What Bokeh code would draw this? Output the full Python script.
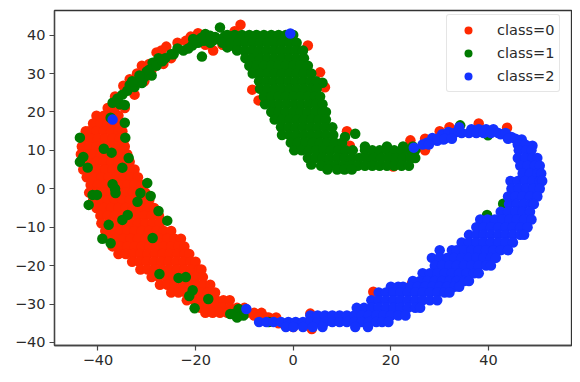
from bokeh.plotting import figure
from bokeh.models import Legend, LegendItem, FixedTicker
from bokeh.embed import file_html
from bokeh.resources import INLINE

x_ticks = [-40, -20, 0, 20, 40]
y_ticks = [-40, -30, -20, -10, 0, 10, 20, 30, 40]
class_labels = ["class=0", "class=1", "class=2"]
colors = ["#ff2800", "#007a00", "#1432ff"]

# Each row: y value, then the x values read along that height
red_rows = [
 (21, [-38, -36.5]),
 (19, [-40.3, -38.8, -37.3, -35.8]),
 (17, [-41, -39.5, -38, -36.5, -35.5]),
 (15, [-42.5, -41.8, -40.3, -38.8, -37.3, -35.8, -35]),
 (13, [-43, -41.5, -40, -38.5, -37, -35.5, -34.5]),
 (11, [-43.3, -41.8, -40.3, -38.8, -37.3, -35.8, -34.5]),
 (9, [-43.5, -42.5, -41, -39.5, -38, -36.5, -35, -34]),
 (7, [-43.3, -41.8, -40.3, -38.8, -37.3, -35.8, -34.3, -33.5]),
 (5, [-43, -41.5, -40, -38.5, -37, -35.5, -34, -32.5]),
 (3, [-42.3, -40.8, -39.3, -37.8, -36.3, -34.8, -33.3, -31.8]),
 (1, [-41.5, -40, -38.5, -37, -35.5, -34, -32.5, -31]),
 (-1, [-41.8, -40.3, -38.8, -37.3, -35.8, -34.3, -32.8, -31.3, -30.3]),
 (-3, [-41, -39.5, -38, -36.5, -35, -33.5, -32, -30.5, -29.5]),
 (-5, [-40.3, -38.8, -37.3, -35.8, -34.3, -32.8, -31.3, -29.8, -28.5]),
 (-7, [-39.5, -38, -36.5, -35, -33.5, -32, -30.5, -29, -27.5]),
 (-9, [-39.3, -37.8, -36.3, -34.8, -33.3, -31.8, -30.3, -28.8, -27.3]),
 (-11, [-38.5, -37, -35.5, -34, -32.5, -31, -29.5, -28, -26.5, -25]),
 (-13, [-37.8, -36.3, -34.8, -33.3, -31.8, -30.3, -28.8, -27.3, -25.8, -24.3, -23]),
 (-15, [-37, -35.5, -34, -32.5, -31, -29.5, -28, -26.5, -25, -23.5, -22.3]),
 (-17, [-35.8, -34.3, -32.8, -31.3, -29.8, -28.3, -26.8, -25.3, -23.8, -22.3, -21.3]),
 (-19, [-33, -31.5, -30, -28.5, -27, -25.5, -24, -22.5, -21, -20]),
 (-21, [-31.3, -29.8, -28.3, -26.8, -25.3, -23.8, -22.3, -20.8, -19.3, -18.8]),
 (-23, [-29, -27.5, -26, -24.5, -23, -21.5, -20, -18.5]),
 (-25, [-27.3, -25.8, -24.3, -22.8, -21.3, -19.8, -18.3, -17]),
 (-27, [-25, -23.5, -22, -20.5, -19, -17.5, -16]),
 (-29, [-21.8, -20.3, -18.8, -17.3, -15.8, -14.3, -13]),
 (-31, [-19, -17.5, -16, -14.5, -13, -11.5, -10]),
 (-32.3, [-18, -16.5, -15, -13.5, -11, -9.5, -8, -6.5]),
 (-33.5, [-7, -5, -3.5]),
]
red_extra_x = [-36.5, -34.8, -32.5, -34.5, -27, -26.6, -23.7, -21, -16.4, -10.8, -12, -8, -8.4, -7.1,
               3, 5.5, 6.5, 11, 11.6, -8, -5.5, -3, 0, 3.5, 3.8, 16.4, 24.3, 43.8, 38, 32, 30,
               27, 24, 27, 20.5, -30.5, -29,
               -33.5, -32, -31, -29.5, -28, -26, -25, -22, -19.5, -18, -14.5]
red_extra_y = [24, 26.8, 24.5, 21, 36, 32.5, 38, 39.6, 36, 42.7, 41, 35, 25.8, 23,
               37.3, 30.3, 26.4, 15, 11.2, -33, -33.5, -35, -36, -32.5, -36.5, -26.8, -24.7, 15.9, 17, 16, 15,
               10, 12.6, 13, 5.8, 28, 31,
               28.5, 30, 32, 32.5, 35.5, 37, 34, 38.5, 40.5, 37.5, 37.5]

green_rows = [
 (40, [-13.5, -12, -10.5, -9, -7.5, -6, -4.5, -3, -1.5, 0]),
 (38, [-14.5, -12.8, -11.3, -9.8, -8.3, -6.8, -5.3, -3.8, -2.3, -0.8, 0.7]),
 (36, [-11.5, -10, -8.5, -7, -5.5, -4, -2.5, -1, 0.5, 2]),
 (34, [-9.8, -8.3, -6.8, -5.3, -3.8, -2.3, -0.8, 0.7, 2.2]),
 (32, [-9, -7.5, -6, -4.5, -3, -1.5, 0, 1.5, 3]),
 (30, [-8.3, -6.8, -5.3, -3.8, -2.3, -0.8, 0.7, 2.2, 3.7]),
 (28, [-7, -5.5, -4, -2.5, -1, 0.5, 2, 3.5, 4.7]),
 (26, [-6.8, -5.3, -3.8, -2.3, -0.8, 0.7, 2.2, 3.7, 4.8]),
 (24, [-6, -4.5, -3, -1.5, 0, 1.5, 3, 4.5, 5.5]),
 (22, [-5.8, -4.3, -2.8, -1.3, 0.2, 1.7, 3.2, 4.7, 6]),
 (20, [-4.5, -3, -1.5, 0, 1.5, 3, 4.5, 6, 6.7]),
 (18, [-3.8, -2.3, -0.8, 0.7, 2.2, 3.7, 5.2, 6.7]),
 (16, [-2.5, -1, 0.5, 2, 3.5, 5, 6.5, 8]),
 (14, [-2.3, -0.8, 0.7, 2.2, 3.7, 5.2, 6.7, 8.2]),
 (12, [-0.5, 1, 2.5, 4, 5.5, 7, 8.5, 10]),
 (11, [14.7, 19.2, 22.5, 24.5]),
 (10, [0.2, 1.7, 3.2, 4.7, 6.2, 7.7, 9.2, 10.7, 12.2, 14.7, 16.2, 17.7, 19.2, 20.7, 22.2, 23.7, 25]),
 (8, [3, 4.5, 6, 7.5, 9, 10.5, 12, 13.5, 15, 16.5, 18, 19.5, 21, 22.5, 24, 25]),
 (6, [5.7, 7.2, 8.7, 10.2, 11.7, 13.2, 14.7, 16.2, 17.7, 19.2, 20.7, 22.2, 23.7]),
 (5, [7, 9, 10.5, 12]),
]
green_extra_x = [-37, -35.5, -34.5, -36, -35, -34, -33.5, -32.5, -32, -31, -30.5, -30, -29,
                 -28.8, -27.6, -26.2, -25, -23.7, -22.5, -20.7, -19.5, -18.7, -18, -18.3, -16.5, -15, -15.5, -14,
                 -43.7, -37.4, -34.5, -34.4, -38.8, -37.2, -43, -43.7, -42.1, -33.7, -35, -29.9, -37, -36.5,
                 -41.1, -40.2, -36.4, -31.3, -29.2, -31.9, -41.9, -27.6, -25.8, -33.9, -35, -37.8, -39.1, -37.4,
                 -28.8, -27.4, -23.5, -22, -20.6, -21.3, -17.4, -20.2, -12.3, -11.2, -10.2, -12.9, -11.5, -5,
                 39.7, 43, 39.9, 34.2, 6, 12.7, 10.6, 3.7,
                 -33, -31.5, -29.5, -28, -26.8, -24.5, -21.5, -20, -17, -16, -13.5, -12,
                 -20.5, -18.8, -17]
green_extra_y = [22.4, 22, 21.8, 23.5, 24.5, 25.5, 27, 26.5, 28, 27.5, 29, 30.5, 29.5,
                 32.8, 34, 34, 35, 36.5, 36, 37.3, 38, 34.4, 40.3, 38.5, 38.5, 42, 39, 39.8,
                 13.3, 18.5, 17.2, 13.3, 10.4, 9.4, 8.3, 7, 5.5, 8, 5.5, 1.5, 1.2, 0,
                 -1.6, -1.6, -1.1, -1.1, -1.9, -3.4, -4.2, -5.8, -8.3, -6.8, -8.1, -9.4, -13, -14.2,
                 -12.8, -22.2, -23.2, -23, -26.4, -27.9, -28.7, -31.1, -32.6, -31.3, -33, -32.6, -33.5, -34.7,
                 -6.8, -3.9, 13.9, 16.5, 27.6, 14.3, 13.5, 6.3,
                 28, 29.5, 31, 32, 33.2, 35, 36.5, 38.5, 38, 39.5, 36.8, 37,
                 39, 39.3, 39.8]

blue_rows = [
 (15.5, [36.5, 38, 39.5, 41]),
 (14.5, [33, 34.5, 36, 37.5, 39, 40.5, 42, 43.5]),
 (13, [29.5, 31, 32.5, 44, 45.5]),
 (11.5, [26.5, 27.8, 46, 47.5]),
 (10, [46.2, 47.7, 48.8]),
 (8, [46, 47.5, 49, 50]),
 (6, [46.5, 48, 49.5, 50.5]),
 (4, [47, 48.5, 50, 50.8]),
 (2, [44.5, 46, 47.5, 49, 50.5, 51]),
 (0, [44.7, 46.2, 47.7, 49.2, 50.5]),
 (-2, [44, 45.5, 47, 48.5, 50]),
 (-4, [44.2, 45.7, 47.2, 48.7, 49.3]),
 (-6, [42.5, 44, 45.5, 47, 48.5]),
 (-8, [38.3, 39.8, 41.3, 42.8, 44.3, 45.8, 47.3, 48.8]),
 (-10, [37.5, 39, 40.5, 42, 43.5, 45, 46.5, 48]),
 (-12, [36, 37.5, 39, 40.5, 42, 43.5, 45, 46.5, 47.3]),
 (-14, [34.5, 36, 37.5, 39, 40.5, 42, 43.5, 45]),
 (-16, [30, 32.5, 33.5, 35, 36.5, 38, 39.5, 41, 42.5, 44]),
 (-18, [28.4, 30, 31.5, 33, 34.5, 36, 37.5, 39, 40.5, 41.5]),
 (-20, [29, 30.5, 32, 33.5, 35, 36.5, 38, 39.5, 40.5]),
 (-22, [26.5, 28, 29.5, 31, 32.5, 34, 35.5, 37, 38]),
 (-24, [24.5, 26, 27.5, 29, 30.5, 32, 33.5, 35, 36]),
 (-25.5, [20, 21.5, 22.5, 24, 25.5, 27, 28.5, 30, 31.5, 33, 34]),
 (-27, [17.5, 19, 20.5, 22, 23.5, 25, 26.5, 28, 29.5, 31, 32]),
 (-29, [16, 17.5, 19, 20.5, 22, 23.5, 25, 26.5, 28, 29.5]),
 (-31, [13, 14.5, 16, 17.5, 19, 20.5, 22, 23.5, 25, 26]),
 (-33, [3.5, 5, 6.5, 8, 9.5, 11, 12.5, 14, 15.5, 17, 18.5, 20, 21.5, 23]),
 (-34.7, [-7, -5.5, -4, -2.5, -1, 0.5, 2, 3.5, 5, 6.5, 8, 9.5, 11, 12.5, 14, 15.5, 17, 18.2, 19.5]),
 (-36, [-1.5, 0, 2, 4, 6, 12.7, 15.3]),
]
blue_extra_x = [-37, -0.6, 24.7, 27.4, -9.6, 28.5, 30.5, 31.8, 34, 42.5, 44.7, 46.8, 48.3, 49, 29.5, 30.8]
blue_extra_y = [18, 40.4, 10.7, 12, -31.3, 13.2, 14.2, 14.8, 16, 14.2, 13.5, 12.8, 11, 11.2, 12.5, 12.8]


def flatten(rows, extra_x, extra_y):
    xs, ys = list(extra_x), list(extra_y)
    for y, row in rows:
        for x in row:
            xs.append(x)
            ys.append(y)
    return xs, ys


p = figure(width=572, height=374, output_backend="svg", toolbar_location=None,
           x_range=(-48.9, 57), y_range=(-40.8, 46.4),
           min_border_left=54, min_border_right=1, min_border_top=10, min_border_bottom=29)
p.grid.visible = False
p.outline_line_color = "#333333"
p.outline_line_width = 1.3

p.xaxis.ticker = FixedTicker(ticks=x_ticks)
p.yaxis.ticker = FixedTicker(ticks=y_ticks)
p.xaxis.major_label_overrides = {t: str(t).replace("-", "\u2212") for t in x_ticks}
p.yaxis.major_label_overrides = {t: str(t).replace("-", "\u2212") for t in y_ticks}
for ax in (p.xaxis[0], p.yaxis[0]):
    ax.major_label_text_font = "DejaVu Sans"
    ax.major_label_text_font_size = "14.5px"
    ax.major_label_text_color = "#2a2a2a"
    ax.axis_line_color = "#444444"
    ax.axis_line_width = 1.3
    ax.major_tick_line_color = "#444444"
    ax.major_tick_line_width = 1.2
    ax.major_tick_out = 5
    ax.major_tick_in = 0
    ax.minor_tick_line_color = None
    ax.major_label_standoff = 4

rs = []
for rows, ex, ey, c in [(red_rows, red_extra_x, red_extra_y, colors[0]),
                        (green_rows, green_extra_x, green_extra_y, colors[1]),
                        (blue_rows, blue_extra_x, blue_extra_y, colors[2])]:
    xs, ys = flatten(rows, ex, ey)
    rs.append(p.scatter(xs, ys, size=10.5, color=c, line_color=None))

legend = Legend(items=[LegendItem(label=l, renderers=[r]) for l, r in zip(class_labels, rs)],
                location=(392, 253), orientation="vertical")
legend.label_text_font = "DejaVu Sans"
legend.label_text_font_size = "14.5px"
legend.label_text_color = "#2a2a2a"
legend.label_standoff = 13
legend.glyph_width = 32
legend.glyph_height = 20
legend.label_height = 20
legend.spacing = 3
legend.padding = 5
legend.margin = 0
legend.border_line_color = "#cccccc"
legend.background_fill_alpha = 0.8
legend.border_radius = 3
p.add_layout(legend, "center")

open("out.html", "w").write(file_html(p, INLINE))
